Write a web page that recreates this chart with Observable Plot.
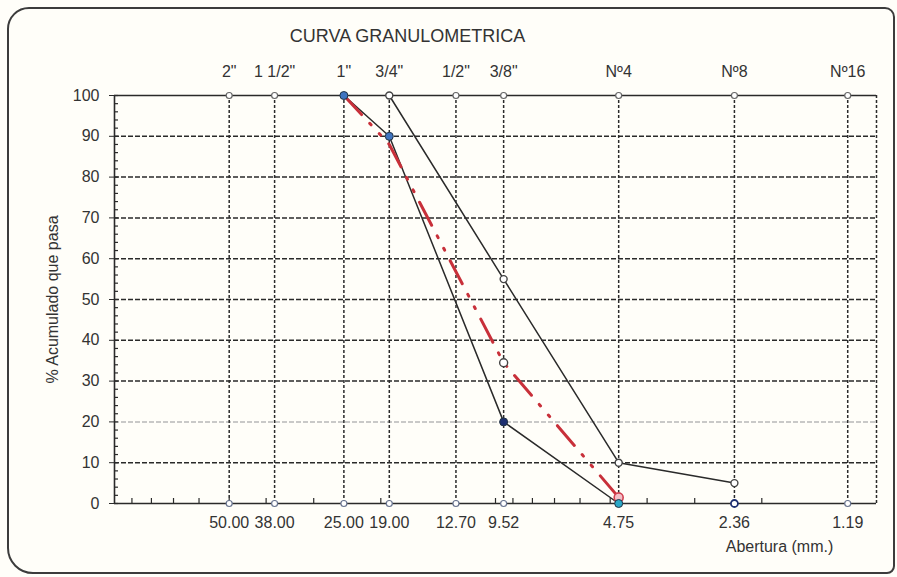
<!DOCTYPE html>
<html>
<head>
<meta charset="utf-8">
<script src="https://cdn.jsdelivr.net/npm/d3@7"></script>
<script src="https://cdn.jsdelivr.net/npm/@observablehq/plot@0.6"></script>
<style>
  html, body { margin: 0; padding: 0; background: #fffef9; }
  #wrap { position: relative; width: 897px; height: 577px; overflow: hidden; background: #fffef9; }
  #border { position: absolute; left: 7px; top: 7px; width: 888px; height: 567px; border: 2px solid #3c3c3c; border-radius: 22px 10px 8px 26px; box-sizing: border-box; }
  #chart { position: absolute; left: 0; top: 0; }
</style>
</head>
<body>
<div id="wrap"><div id="border"></div><div id="chart"></div></div>
<script>
// Sieve openings (mm), names and numeric labels
const sieveMm = [50, 38, 25, 19, 12.7, 9.52, 4.75, 2.36, 1.19];
const sieveNames = ['2"', '1 1/2"', '1"', '3/4"', '1/2"', '3/8"', 'Nº4', 'Nº8', 'Nº16'];
const sieveLabels = ["50.00", "38.00", "25.00", "19.00", "12.70", "9.52", "4.75", "2.36", "1.19"];

// Upper limit of the gradation band
const upperMm = [19, 9.52, 4.75, 2.36];
const upperPct = [100, 55, 10, 5];
// Lower limit of the gradation band
const lowerMm = [25, 19, 9.52, 4.75];
const lowerPct = [100, 90, 20, 0];
const lowerColors = ["#3f74c0", "#3f74c0", "#1d2f70", "#2aa8c8"];
// Sample curve
const sampleMm = [25, 19, 9.52, 4.75];
const samplePct = [100, 88, 34.5, 1.5];

// Axis values
const yTicks = [0, 10, 20, 30, 40, 50, 60, 70, 80, 90, 100];
const yGrid = [10, 30, 40, 50, 60, 70, 80, 90];
const yGridFaint = [20];
const yMinor = d3.range(0, 101, 2);
const xMinor = [90, 80, 70, 60, 50, 40, 30, 20, 10, 9, 8, 7, 6, 5, 4, 3, 2];
const xDomain = [100, 1];
const topRow = 100, bottomRow = 0;
const titleText = "CURVA GRANULOMETRICA";
const yLabelText = "% Acumulado que pasa";
const xLabelText = "Abertura (mm.)";

const W = 897, H = 577, mL = 114, mR = 21, mT = 95, mB = 74;
const pw = W - mL - mR, ph = H - mT - mB;

const zip = (xs, ys) => xs.map((x, i) => ({x, y: ys[i], i}));
const sieves = sieveMm.map((mm, i) => ({mm, name: sieveNames[i], label: sieveLabels[i]}));
const upper = zip(upperMm, upperPct);
const lower = zip(lowerMm, lowerPct);
const sample = zip(sampleMm, samplePct);

const ink = "#2a2a2a";
const font = "Liberation Sans, Arial, sans-serif";

const chart = Plot.plot({
  width: W, height: H,
  marginLeft: mL, marginRight: mR, marginTop: mT, marginBottom: mB,
  style: {background: "transparent", fontFamily: font, fontSize: "16px", color: "#333", overflow: "visible"},
  x: {type: "log", domain: xDomain, axis: null},
  y: {domain: [0, 100], axis: null},
  marks: [
    // grid
    Plot.ruleY(yGrid, {stroke: ink, strokeWidth: 1.5, strokeDasharray: "5,2"}),
    Plot.ruleY(yGridFaint, {stroke: "#b8b8b8", strokeWidth: 1.5, strokeDasharray: "5,2"}),
    Plot.ruleX(sieveMm, {stroke: ink, strokeWidth: 1.5, strokeDasharray: "3,2"}),
    Plot.ruleX([xDomain[1]], {stroke: ink, strokeWidth: 1.5, strokeDasharray: "3,2"}),
    // frame
    Plot.ruleY([bottomRow], {stroke: ink, strokeWidth: 1.6}),
    Plot.ruleY([topRow], {stroke: ink, strokeWidth: 1.3}),
    Plot.ruleX([xDomain[0]], {stroke: ink, strokeWidth: 1.6}),
    // minor ticks
    Plot.tickY(yMinor, {y: d => d, insetRight: pw - 4, stroke: ink, strokeWidth: 1.2}),
    Plot.tickX(xMinor, {x: d => d, insetTop: ph - 5, stroke: ink, strokeWidth: 1.2}),
    // y axis
    Plot.axisY(yTicks, {anchor: "left", tickSize: 5, tickPadding: 10, fontSize: 16, label: null, stroke: ink, fill: "#333"}),
    // curves
    Plot.line(upper, {x: "x", y: "y", stroke: ink, strokeWidth: 1.5}),
    Plot.line(lower, {x: "x", y: "y", stroke: ink, strokeWidth: 1.5}),
    Plot.line(sample, {x: "x", y: "y", stroke: "#c8303a", strokeWidth: 3, strokeDasharray: "26,12,2,12,2,12"}),
    // sieve markers on top and bottom rows
    Plot.dot(sieves, {x: "mm", y: () => topRow, r: 3, stroke: "#666", fill: "#fff", strokeWidth: 1.2}),
    Plot.dot(sieves, {x: "mm", y: () => bottomRow, r: 3, stroke: "#6a7590", fill: "#fff", strokeWidth: 1.2}),
    // curve markers
    Plot.dot(upper, {x: "x", y: "y", r: 3.5, stroke: "#444", fill: "#fff", strokeWidth: 1.4}),
    Plot.dot(sample.filter(d => d.i === 2), {x: "x", y: "y", r: 4, stroke: "#444", fill: "#fff", strokeWidth: 1.4}),
    Plot.dot(sample.filter(d => d.i === 3), {x: "x", y: "y", r: 4.5, stroke: "#d04050", fill: "#f3c0c8", strokeWidth: 1.6}),
    Plot.dot(lower, {x: "x", y: "y", r: 4, stroke: "#234", fill: (d) => lowerColors[d.i], strokeWidth: 1}),
    Plot.dot(sieves.filter(d => d.mm === 2.36), {x: "mm", y: () => bottomRow, r: 3.5, stroke: "#1d2f70", fill: "#fff", strokeWidth: 1.8}),
    // sieve texts
    Plot.text(sieves, {x: "mm", y: () => topRow, text: "name", dy: -24, fontSize: 16, fill: "#333", lineAnchor: "middle"}),
    Plot.text(sieves, {x: "mm", y: () => bottomRow, text: "label", dy: 19, fontSize: 16, fill: "#333", lineAnchor: "middle"}),
    // titles
    Plot.text([titleText], {frameAnchor: "top", dx: -88, dy: -59, fontSize: 18, fill: "#333", textAnchor: "middle", lineAnchor: "middle"}),
    Plot.text([yLabelText], {frameAnchor: "left", rotate: -90, dx: -62, fontSize: 16, fill: "#333", textAnchor: "middle", lineAnchor: "middle"}),
    Plot.text([xLabelText], {frameAnchor: "bottom-right", dx: -97, dy: 43, fontSize: 16, fill: "#333", textAnchor: "middle", lineAnchor: "middle"})
  ]
});
document.getElementById("chart").appendChild(chart);
</script>
</body>
</html>
